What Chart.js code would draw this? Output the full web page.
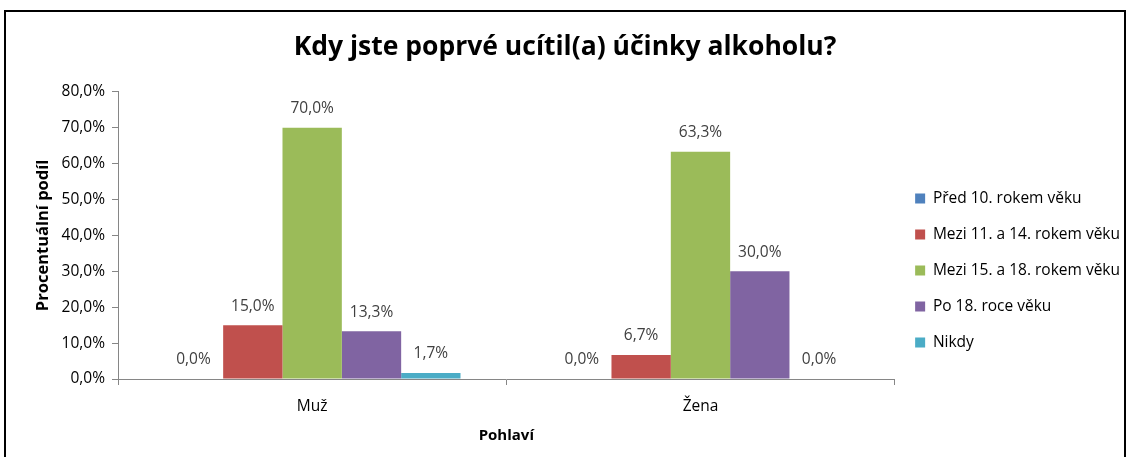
<!DOCTYPE html>
<html>
<head>
<meta charset="utf-8">
<script src="https://cdn.jsdelivr.net/npm/chart.js@4"></script>
<style>
    body { margin: 0; background: #fff; }
    #wrap { position: relative; width: 1130px; height: 457px; }
    #frame { position: absolute; left: 4px; top: 10px; width: 1122px; height: 460px; border: 2px solid #000; box-sizing: border-box; pointer-events: none; }
</style>
</head>
<body>
<div id="wrap">
    <canvas id="chart" width="1130" height="457"></canvas>
    <div id="frame"></div>
</div>
<script>
// Data
const categories = ['Muž', 'Žena'];
const seriesNames = ['Před 10. rokem věku', 'Mezi 11. a 14. rokem věku', 'Mezi 15. a 18. rokem věku', 'Po 18. roce věku', 'Nikdy'];
const seriesColors = ['#4F81BD', '#C0504D', '#9BBB59', '#8064A2', '#4BACC6'];
const before10 = [0, 0];
const between11and14 = [15.0, 6.7];
const between15and18 = [70.0, 63.3];
const after18 = [13.3, 30.0];
const never = [1.7, 0];
const yTicks = [0, 10, 20, 30, 40, 50, 60, 70, 80];

const FONT = "'Open Sans', 'Noto Sans', sans-serif";
const fmt = v => v.toFixed(1).replace('.', ',') + '%';

// Draw value labels above each bar
const valueLabels = {
    id: 'valueLabels',
    afterDatasetsDraw(chart) {
        const ctx = chart.ctx;
        ctx.save();
        ctx.font = '15.5px ' + FONT;
        ctx.fillStyle = '#404040';
        ctx.textAlign = 'center';
        ctx.textBaseline = 'middle';
        chart.data.datasets.forEach((ds, i) => {
            chart.getDatasetMeta(i).data.forEach((bar, j) => {
                ctx.fillText(fmt(ds.data[j]), bar.x, bar.y - 19);
            });
        });
        ctx.restore();
    }
};

const allSeries = [before10, between11and14, between15and18, after18, never];

new Chart(document.getElementById('chart'), {
    type: 'bar',
    data: {
        labels: categories,
        datasets: allSeries.map((d, i) => ({
            label: seriesNames[i],
            data: d,
            backgroundColor: seriesColors[i],
            borderWidth: 0,
            barPercentage: 1,
            categoryPercentage: 0.764
        }))
    },
    options: {
        responsive: false,
        animation: false,
        layout: { padding: { left: 0, right: 0, top: 0, bottom: 8 } },
        plugins: {
            title: {
                display: true,
                text: 'Kdy jste poprvé ucítil(a) účinky alkoholu?',
                color: '#000',
                font: { family: FONT, size: 26.5, weight: 'bold' },
                padding: { top: 32, bottom: 28 }
            },
            legend: {
                position: 'right',
                align: 'start',
                title: { display: true, text: ' ', font: { size: 16 }, padding: { top: 111, bottom: 40 } },
                labels: {
                    color: '#000',
                    font: { family: FONT, size: 15.5 },
                    boxWidth: 10,
                    boxHeight: 10,
                    padding: 20.5
                }
            },
            tooltip: { enabled: false }
        },
        scales: {
            x: {
                afterFit: scale => { scale.height = 70; },
                grid: { display: true, drawOnChartArea: false, offset: true, color: '#868686', tickLength: 6 },
                border: { color: '#868686' },
                ticks: { color: '#000', font: { family: FONT, size: 15.5 }, padding: 12 },
                title: { display: true, text: 'Pohlaví', color: '#000', font: { family: FONT, size: 15, weight: 'bold' }, padding: { top: 4, bottom: 4 } }
            },
            y: {
                min: 0,
                max: 80,
                afterFit: scale => { scale.width = 118; },
                afterBuildTicks: scale => { scale.ticks = yTicks.map(v => ({ value: v })); },
                grid: { display: true, drawOnChartArea: false, color: '#868686', tickLength: 6 },
                border: { color: '#868686' },
                ticks: { color: '#000', font: { family: FONT, size: 15.5 }, callback: v => fmt(v), padding: 7 },
                title: { display: true, text: 'Procentuální podíl', color: '#000', font: { family: FONT, size: 16.5, weight: 'bold' }, padding: { top: 33, bottom: 4 } }
            }
        }
    },
    plugins: [valueLabels]
});
</script>
</body>
</html>
